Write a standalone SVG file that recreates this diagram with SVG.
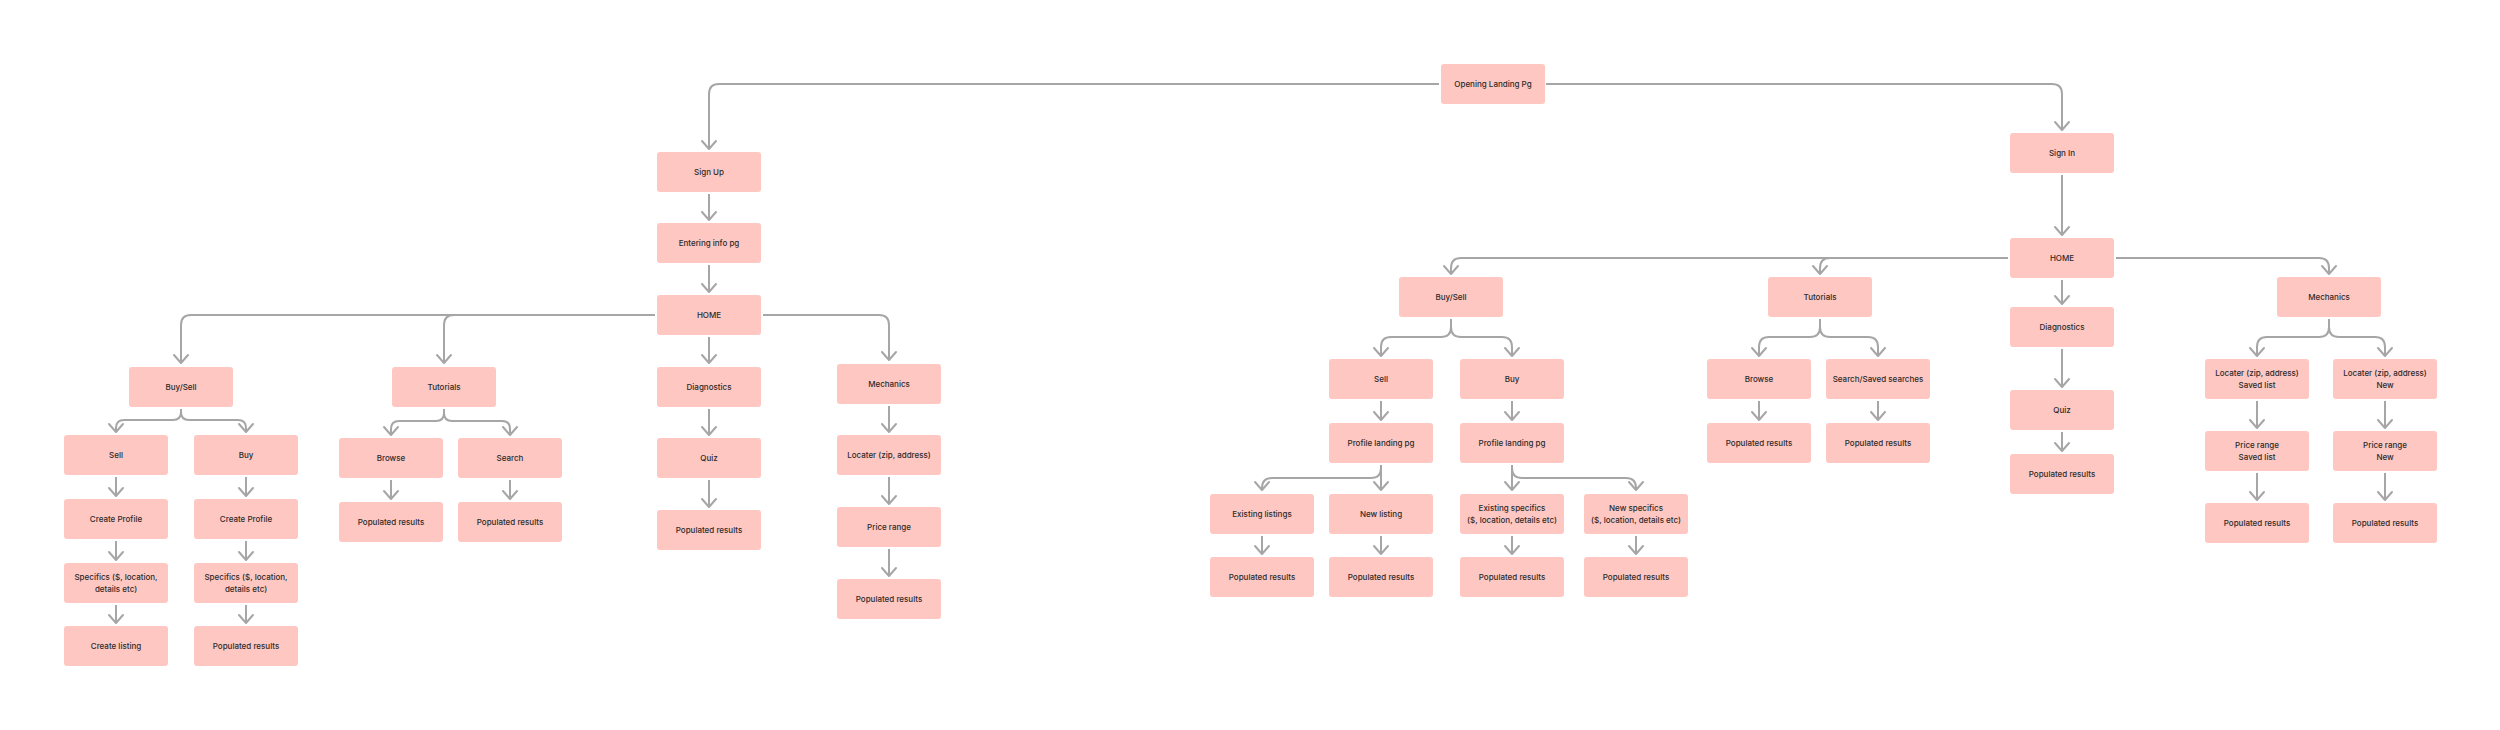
<svg xmlns="http://www.w3.org/2000/svg" width="2500" height="730" viewBox="0 0 2500 730">
<defs>
<style>
.b{fill:#ffc7c2;}
.t{font-family:Inter,"Liberation Sans",sans-serif;font-size:8px;font-weight:500;fill:#2b2b2b;text-anchor:middle;}
.c path{fill:none;stroke:#a6a6a6;stroke-width:2;marker-end:url(#arr);}
</style>
<marker id="arr" viewBox="-10 -9 12 18" refX="0" refY="0" markerWidth="12" markerHeight="18" markerUnits="userSpaceOnUse" orient="auto">
<path d="M-8,-7 L0,0 L-8,7" fill="none" stroke="#a6a6a6" stroke-width="2" stroke-linecap="round" stroke-linejoin="round"/>
</marker>
</defs>
<rect width="2500" height="730" fill="#ffffff"/>
<g class="c" id="connectors">
<path d="M1439,84 H719 Q709,84 709,94 V149"/>
<path d="M1546,84 H2052 Q2062,84 2062,94 V130"/>
<path d="M709,194 V220"/>
<path d="M709,265 V292"/>
<path d="M655,315 H191 Q181,315 181,325 V363"/>
<path d="M655,315 H454 Q444,315 444,325 V363"/>
<path d="M763,315 H879 Q889,315 889,325 V360"/>
<path d="M709,337 V363"/>
<path d="M181,409 V412 Q181,420 173,420 H124 Q116,420 116,428 V432"/>
<path d="M181,409 V412 Q181,420 189,420 H238 Q246,420 246,428 V432"/>
<path d="M116,477 V496"/>
<path d="M116,541 V560"/>
<path d="M116,605 V623"/>
<path d="M246,477 V496"/>
<path d="M246,541 V560"/>
<path d="M246,605 V623"/>
<path d="M444,409 V413 Q444,421 436,421 H399 Q391,421 391,429 V435"/>
<path d="M444,409 V413 Q444,421 452,421 H502 Q510,421 510,429 V435"/>
<path d="M391,480 V499"/>
<path d="M510,480 V499"/>
<path d="M709,409 V435"/>
<path d="M709,480 V507"/>
<path d="M889,406 V432"/>
<path d="M889,477 V504"/>
<path d="M889,549 V576"/>
<path d="M2062,175 V235"/>
<path d="M2008,258 H1461 Q1451,258 1451,268 V274"/>
<path d="M2008,258 H1830 Q1820,258 1820,268 V274"/>
<path d="M2116,258 H2319 Q2329,258 2329,268 V274"/>
<path d="M2062,280 V304"/>
<path d="M2062,349 V387"/>
<path d="M2062,432 V451"/>
<path d="M1451,319 V327 Q1451,337 1441,337 H1391 Q1381,337 1381,347 V356"/>
<path d="M1451,319 V327 Q1451,337 1461,337 H1502 Q1512,337 1512,347 V356"/>
<path d="M1381,401 V420"/>
<path d="M1512,401 V420"/>
<path d="M1381,465 V490"/>
<path d="M1381,465 V468 Q1381,478 1371,478 H1272 Q1262,478 1262,488 V490"/>
<path d="M1512,465 V490"/>
<path d="M1512,465 V468 Q1512,478 1522,478 H1626 Q1636,478 1636,488 V490"/>
<path d="M1262,536 V554"/>
<path d="M1381,536 V554"/>
<path d="M1512,536 V554"/>
<path d="M1636,536 V554"/>
<path d="M1820,319 V327 Q1820,337 1810,337 H1769 Q1759,337 1759,347 V356"/>
<path d="M1820,319 V327 Q1820,337 1830,337 H1868 Q1878,337 1878,347 V356"/>
<path d="M1759,401 V420"/>
<path d="M1878,401 V420"/>
<path d="M2329,319 V327 Q2329,337 2319,337 H2267 Q2257,337 2257,347 V356"/>
<path d="M2329,319 V327 Q2329,337 2339,337 H2375 Q2385,337 2385,347 V356"/>
<path d="M2257,401 V428"/>
<path d="M2385,401 V428"/>
<path d="M2257,473 V500"/>
<path d="M2385,473 V500"/>
</g>
<g id="landing"><rect class="b" x="1441" y="64" width="104" height="40" rx="3"/><text class="t" x="1493" y="87">Opening Landing Pg</text></g>
<g id="signup"><rect class="b" x="657" y="152" width="104" height="40" rx="3"/><text class="t" x="709" y="175">Sign Up</text></g>
<g id="entering"><rect class="b" x="657" y="223" width="104" height="40" rx="3"/><text class="t" x="709" y="246">Entering info pg</text></g>
<g id="home-l"><rect class="b" x="657" y="295" width="104" height="40" rx="3"/><text class="t" x="709" y="318">HOME</text></g>
<g id="buysell-l"><rect class="b" x="129" y="367" width="104" height="40" rx="3"/><text class="t" x="181" y="390">Buy/Sell</text></g>
<g id="sell-l"><rect class="b" x="64" y="435" width="104" height="40" rx="3"/><text class="t" x="116" y="458">Sell</text></g>
<g id="buy-l"><rect class="b" x="194" y="435" width="104" height="40" rx="3"/><text class="t" x="246" y="458">Buy</text></g>
<g id="profile-sell-l"><rect class="b" x="64" y="499" width="104" height="40" rx="3"/><text class="t" x="116" y="522">Create Profile</text></g>
<g id="profile-buy-l"><rect class="b" x="194" y="499" width="104" height="40" rx="3"/><text class="t" x="246" y="522">Create Profile</text></g>
<g id="specifics-sell-l"><rect class="b" x="64" y="563" width="104" height="40" rx="3"/><text class="t" x="116" y="580">Specifics ($, location,</text><text class="t" x="116" y="592">details etc)</text></g>
<g id="specifics-buy-l"><rect class="b" x="194" y="563" width="104" height="40" rx="3"/><text class="t" x="246" y="580">Specifics ($, location,</text><text class="t" x="246" y="592">details etc)</text></g>
<g id="create-listing-l"><rect class="b" x="64" y="626" width="104" height="40" rx="3"/><text class="t" x="116" y="649">Create listing</text></g>
<g id="results-buy-l"><rect class="b" x="194" y="626" width="104" height="40" rx="3"/><text class="t" x="246" y="649">Populated results</text></g>
<g id="tutorials-l"><rect class="b" x="392" y="367" width="104" height="40" rx="3"/><text class="t" x="444" y="390">Tutorials</text></g>
<g id="browse-l"><rect class="b" x="339" y="438" width="104" height="40" rx="3"/><text class="t" x="391" y="461">Browse</text></g>
<g id="search-l"><rect class="b" x="458" y="438" width="104" height="40" rx="3"/><text class="t" x="510" y="461">Search</text></g>
<g id="results-browse-l"><rect class="b" x="339" y="502" width="104" height="40" rx="3"/><text class="t" x="391" y="525">Populated results</text></g>
<g id="results-search-l"><rect class="b" x="458" y="502" width="104" height="40" rx="3"/><text class="t" x="510" y="525">Populated results</text></g>
<g id="diag-l"><rect class="b" x="657" y="367" width="104" height="40" rx="3"/><text class="t" x="709" y="390">Diagnostics</text></g>
<g id="quiz-l"><rect class="b" x="657" y="438" width="104" height="40" rx="3"/><text class="t" x="709" y="461">Quiz</text></g>
<g id="results-quiz-l"><rect class="b" x="657" y="510" width="104" height="40" rx="3"/><text class="t" x="709" y="533">Populated results</text></g>
<g id="mech-l"><rect class="b" x="837" y="364" width="104" height="40" rx="3"/><text class="t" x="889" y="387">Mechanics</text></g>
<g id="locater-l"><rect class="b" x="837" y="435" width="104" height="40" rx="3"/><text class="t" x="889" y="458">Locater (zip, address)</text></g>
<g id="price-l"><rect class="b" x="837" y="507" width="104" height="40" rx="3"/><text class="t" x="889" y="530">Price range</text></g>
<g id="results-mech-l"><rect class="b" x="837" y="579" width="104" height="40" rx="3"/><text class="t" x="889" y="602">Populated results</text></g>
<g id="signin"><rect class="b" x="2010" y="133" width="104" height="40" rx="3"/><text class="t" x="2062" y="156">Sign In</text></g>
<g id="home-r"><rect class="b" x="2010" y="238" width="104" height="40" rx="3"/><text class="t" x="2062" y="261">HOME</text></g>
<g id="buysell-r"><rect class="b" x="1399" y="277" width="104" height="40" rx="3"/><text class="t" x="1451" y="300">Buy/Sell</text></g>
<g id="sell-r"><rect class="b" x="1329" y="359" width="104" height="40" rx="3"/><text class="t" x="1381" y="382">Sell</text></g>
<g id="buy-r"><rect class="b" x="1460" y="359" width="104" height="40" rx="3"/><text class="t" x="1512" y="382">Buy</text></g>
<g id="profile-sell-r"><rect class="b" x="1329" y="423" width="104" height="40" rx="3"/><text class="t" x="1381" y="446">Profile landing pg</text></g>
<g id="profile-buy-r"><rect class="b" x="1460" y="423" width="104" height="40" rx="3"/><text class="t" x="1512" y="446">Profile landing pg</text></g>
<g id="existing-listings"><rect class="b" x="1210" y="494" width="104" height="40" rx="3"/><text class="t" x="1262" y="517">Existing listings</text></g>
<g id="new-listing"><rect class="b" x="1329" y="494" width="104" height="40" rx="3"/><text class="t" x="1381" y="517">New listing</text></g>
<g id="existing-specifics"><rect class="b" x="1460" y="494" width="104" height="40" rx="3"/><text class="t" x="1512" y="511">Existing specifics</text><text class="t" x="1512" y="523">($, location, details etc)</text></g>
<g id="new-specifics"><rect class="b" x="1584" y="494" width="104" height="40" rx="3"/><text class="t" x="1636" y="511">New specifics</text><text class="t" x="1636" y="523">($, location, details etc)</text></g>
<g id="results-existing-listings"><rect class="b" x="1210" y="557" width="104" height="40" rx="3"/><text class="t" x="1262" y="580">Populated results</text></g>
<g id="results-new-listing"><rect class="b" x="1329" y="557" width="104" height="40" rx="3"/><text class="t" x="1381" y="580">Populated results</text></g>
<g id="results-existing-specifics"><rect class="b" x="1460" y="557" width="104" height="40" rx="3"/><text class="t" x="1512" y="580">Populated results</text></g>
<g id="results-new-specifics"><rect class="b" x="1584" y="557" width="104" height="40" rx="3"/><text class="t" x="1636" y="580">Populated results</text></g>
<g id="tutorials-r"><rect class="b" x="1768" y="277" width="104" height="40" rx="3"/><text class="t" x="1820" y="300">Tutorials</text></g>
<g id="browse-r"><rect class="b" x="1707" y="359" width="104" height="40" rx="3"/><text class="t" x="1759" y="382">Browse</text></g>
<g id="search-saved-r"><rect class="b" x="1826" y="359" width="104" height="40" rx="3"/><text class="t" x="1878" y="382">Search/Saved searches</text></g>
<g id="results-browse-r"><rect class="b" x="1707" y="423" width="104" height="40" rx="3"/><text class="t" x="1759" y="446">Populated results</text></g>
<g id="results-search-r"><rect class="b" x="1826" y="423" width="104" height="40" rx="3"/><text class="t" x="1878" y="446">Populated results</text></g>
<g id="diag-r"><rect class="b" x="2010" y="307" width="104" height="40" rx="3"/><text class="t" x="2062" y="330">Diagnostics</text></g>
<g id="quiz-r"><rect class="b" x="2010" y="390" width="104" height="40" rx="3"/><text class="t" x="2062" y="413">Quiz</text></g>
<g id="results-quiz-r"><rect class="b" x="2010" y="454" width="104" height="40" rx="3"/><text class="t" x="2062" y="477">Populated results</text></g>
<g id="mech-r"><rect class="b" x="2277" y="277" width="104" height="40" rx="3"/><text class="t" x="2329" y="300">Mechanics</text></g>
<g id="locater-saved"><rect class="b" x="2205" y="359" width="104" height="40" rx="3"/><text class="t" x="2257" y="376">Locater (zip, address)</text><text class="t" x="2257" y="388">Saved list</text></g>
<g id="locater-new"><rect class="b" x="2333" y="359" width="104" height="40" rx="3"/><text class="t" x="2385" y="376">Locater (zip, address)</text><text class="t" x="2385" y="388">New</text></g>
<g id="price-saved"><rect class="b" x="2205" y="431" width="104" height="40" rx="3"/><text class="t" x="2257" y="448">Price range</text><text class="t" x="2257" y="460">Saved list</text></g>
<g id="price-new"><rect class="b" x="2333" y="431" width="104" height="40" rx="3"/><text class="t" x="2385" y="448">Price range</text><text class="t" x="2385" y="460">New</text></g>
<g id="results-saved"><rect class="b" x="2205" y="503" width="104" height="40" rx="3"/><text class="t" x="2257" y="526">Populated results</text></g>
<g id="results-new"><rect class="b" x="2333" y="503" width="104" height="40" rx="3"/><text class="t" x="2385" y="526">Populated results</text></g>
</svg>
